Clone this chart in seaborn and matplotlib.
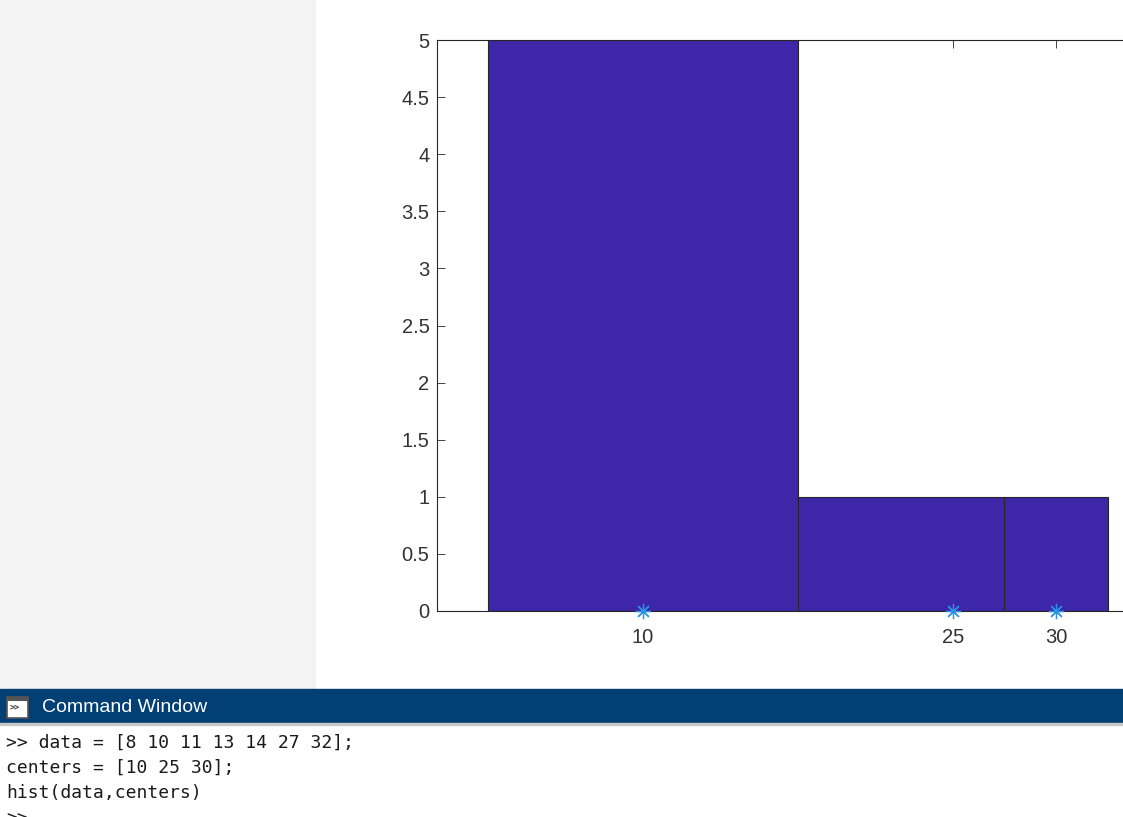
import numpy as np
import matplotlib
matplotlib.use("Agg")
import matplotlib.pyplot as plt
import seaborn as sns
from matplotlib.patches import Rectangle

## data from the command window
data = [8, 10, 11, 13, 14, 27, 32]
centers = [10, 25, 30]
ytick_vals = [0, 0.5, 1, 1.5, 2, 2.5, 3, 3.5, 4, 4.5, 5]
cmd_lines = [">> data = [8 10 11 13 14 27 32];",
             "centers = [10 25 30];",
             "hist(data,centers)",
             ">>"]

## MATLAB style bin edges from centers
c = np.array(centers, dtype=float)
mids = (c[:-1] + c[1:]) / 2
edges = np.concatenate([[c[0] - (mids[0] - c[0])], mids, [c[-1] + (c[-1] - mids[-1])]])

sns.set_style("ticks")
plt.rcParams['font.family'] = ['Liberation Sans', 'DejaVu Sans']

W, H = 1123, 817
fig = plt.figure(figsize=(W / 100, H / 100), dpi=100)

def fx(px):
    return px / W

def fy(py):
    return 1 - py / H

## background panels
fig.patches.append(Rectangle((0, fy(688)), fx(315), 1 - fy(688) + 0.001,
                             transform=fig.transFigure, color="#f3f3f3", zorder=0))
fig.patches.append(Rectangle((0, fy(724)), 1, fy(689) - fy(724),
                             transform=fig.transFigure, color="#023f74", zorder=0))
fig.patches.append(Rectangle((0, fy(725)), 1, fy(723) - fy(725),
                             transform=fig.transFigure, color="#c8c8c8", zorder=0))
# command window icon
fig.patches.append(Rectangle((fx(7), fy(718)), fx(21), fy(697) - fy(718),
                             transform=fig.transFigure, facecolor="white",
                             edgecolor="#555555", linewidth=1.2, zorder=1))
fig.patches.append(Rectangle((fx(7), fy(701)), fx(21), fy(697) - fy(701),
                             transform=fig.transFigure, facecolor="#555555",
                             edgecolor="none", zorder=1))
fig.text(fx(10), fy(707), ">>", fontsize=6, color="#333333", va="center",
         family="DejaVu Sans Mono", fontweight="bold")
fig.text(fx(42), fy(708), "Command Window", fontsize=14, color="white", va="center")

for i, line in enumerate(cmd_lines):
    fig.text(fx(6), fy(743 + 25 * i), line, fontsize=13, color="#1a1a1a",
             va="center", family="DejaVu Sans Mono")

## axes
x0, x1 = 0, 35
px_per_unit = (1056 - 643) / 20
left_px = 643 - 10 * px_per_unit
ax = fig.add_axes([fx(left_px), fy(611), fx((x1 - x0) * px_per_unit), fy(40) - fy(611)])

sns.histplot(x=data, bins=edges, ax=ax, color="#3e26a8", edgecolor="#262626",
             linewidth=0.8, alpha=1, stat="count")
ax.plot(centers, np.zeros(len(centers)), linestyle="none", marker=(8, 2, 0),
        markersize=11, color="#2a93e6", markeredgewidth=0.9, clip_on=False, zorder=5)

ax.set_xlim(x0, x1)
ax.set_ylim(0, 5)
ax.set_xticks(centers)
ax.set_xticklabels([str(v) for v in centers])
ax.set_yticks(ytick_vals)
ax.set_yticklabels([f"{v:g}" for v in ytick_vals])
ax.set_xlabel("")
ax.set_ylabel("")
ax.tick_params(direction="in", length=6, width=0.6, color="#262626",
               labelcolor="#333333", labelsize=14.5, top=True)
ax.tick_params(axis="x", pad=12)
ax.tick_params(axis="y", pad=5)
for side in ["left", "bottom", "top", "right"]:
    ax.spines[side].set_visible(True)
    ax.spines[side].set_color("#262626")
    ax.spines[side].set_linewidth(0.8)

fig.savefig("out.png", dpi=100)
